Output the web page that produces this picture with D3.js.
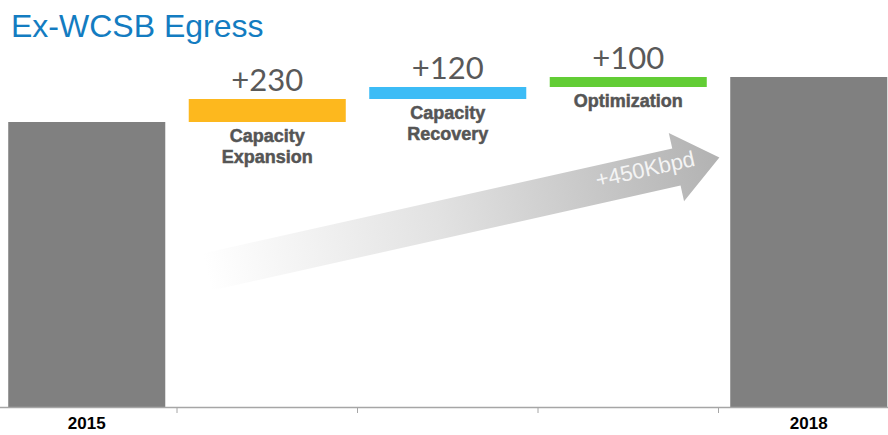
<!DOCTYPE html>
<html>
<head>
<meta charset="utf-8">
<script src="https://cdn.jsdelivr.net/npm/d3@7"></script>
<style>
  html, body { margin: 0; padding: 0; background: #fff; }
  svg { display: block; }
</style>
</head>
<body>
<svg id="chart" width="888" height="435"></svg>
<script>
// ---- data ----
const categories = ["2015", "Capacity Expansion", "Capacity Recovery", "Optimization", "2018"];
const axisLabels = ["2015", "", "", "", "2018"];
const kinds = ["total", "delta", "delta", "delta", "total"];
const values = [2850, 230, 120, 100, 3300];         // kbpd
const valueLabels = ["", "+230", "+120", "+100", ""];
const stepLabels = [[], ["Capacity", "Expansion"], ["Capacity", "Recovery"], ["Optimization"], []];
const barColors = ["#808080", "#fdb81e", "#3cbcf6", "#62cd35", "#808080"];
const title = "Ex-WCSB Egress";
const arrowLabel = "+450Kbpd";

// ---- layout ----
const W = 888, H = 435;
const svg = d3.select("#chart");
const baseY = 407;

const x = d3.scaleBand().domain(categories).range([-3.5, 899]).paddingInner(0.13).paddingOuter(0.065);
const y = d3.scaleLinear().domain([0, 3300]).range([baseY, 77]);

// compute waterfall segments
let running = 0;
const segs = categories.map((c, i) => {
  let lo, hi;
  if (kinds[i] === "total") { lo = 0; hi = values[i]; running = values[i]; }
  else { lo = running; hi = running + values[i]; running = hi; }
  return { cat: c, lo, hi, i };
});

// title
svg.append("text")
  .attr("x", 11).attr("y", 37)
  .attr("font-family", "'Liberation Sans', Arial, sans-serif")
  .attr("font-size", 32)
  .attr("fill", "#137cc1")
  .text(title);

// arrow (gradient)
const defs = svg.append("defs");
const grad = defs.append("linearGradient").attr("id", "arrowGrad")
  .attr("gradientUnits", "userSpaceOnUse")
  .attr("x1", 0).attr("y1", 0).attr("x2", 525).attr("y2", 0);
grad.append("stop").attr("offset", 0).attr("stop-color", "#ffffff");
grad.append("stop").attr("offset", 0.45).attr("stop-color", "#e2e2e2");
grad.append("stop").attr("offset", 1).attr("stop-color", "#b2b2b2");

const ang = -12.6;
const L = 525, headLen = 44, shaftHW = 19, headHW = 35;
const arrow = svg.append("g").attr("transform", `translate(207,272) rotate(${ang})`);
arrow.append("path")
  .attr("d", `M0,${-shaftHW} L${L - headLen},${-shaftHW} L${L - headLen},${-headHW} L${L},0 L${L - headLen},${headHW} L${L - headLen},${shaftHW} L0,${shaftHW} Z`)
  .attr("fill", "url(#arrowGrad)");
arrow.append("text")
  .attr("x", 450).attr("y", -3)
  .attr("text-anchor", "middle")
  .attr("dominant-baseline", "middle")
  .attr("font-family", "'Liberation Sans', Arial, sans-serif")
  .attr("font-size", 22)
  .attr("fill", "#f4f4f4")
  .text(arrowLabel);

// bars
svg.append("g").selectAll("rect").data(segs).join("rect")
  .attr("x", d => x(d.cat))
  .attr("width", x.bandwidth())
  .attr("y", d => y(d.hi))
  .attr("height", d => y(d.lo) - y(d.hi))
  .attr("fill", (d, i) => barColors[i]);

// value labels above deltas
svg.append("g").selectAll("text").data(segs.filter(d => valueLabels[d.i])).join("text")
  .attr("x", d => x(d.cat) + x.bandwidth() / 2)
  .attr("y", d => y(d.hi) - 8)
  .attr("text-anchor", "middle")
  .attr("font-family", "Lato, 'Open Sans', sans-serif")
  .attr("font-size", 31)
  .attr("fill", "#595959")
  .text(d => valueLabels[d.i]);

// step labels below deltas
const stepG = svg.append("g");
segs.forEach(d => {
  stepLabels[d.i].forEach((line, k) => {
    stepG.append("text")
      .attr("x", x(d.cat) + x.bandwidth() / 2)
      .attr("y", y(d.lo) + 20 + k * 21)
      .attr("text-anchor", "middle")
      .attr("font-family", "'Liberation Sans', Arial, sans-serif")
      .attr("font-weight", "bold")
      .attr("font-size", 18)
      .attr("fill", "#555555")
      .attr("stroke", "#555555")
      .attr("stroke-width", 0.5)
      .text(line);
  });
});

// axis
const axisG = svg.append("g").attr("transform", `translate(0,${baseY})`);
axisG.call(d3.axisBottom(x).tickSize(0).tickPadding(10).tickFormat((d, i) => axisLabels[i]));
axisG.select(".domain").attr("d", `M0,0.5H${W}`).attr("stroke", "#a6a6a6").attr("stroke-width", 1.5);
axisG.selectAll(".tick text")
  .attr("font-family", "'Liberation Sans', Arial, sans-serif")
  .attr("font-weight", "bold")
  .attr("font-size", 17)
  .attr("fill", "#000");
// separators at band boundaries
const bounds = categories.slice(1).map(c => x(c) - x.step() * x.paddingInner() / 2);
axisG.selectAll("line.sep").data(bounds).join("line")
  .attr("class", "sep")
  .attr("x1", d => d).attr("x2", d => d)
  .attr("y1", 0).attr("y2", 6)
  .attr("stroke", "#a6a6a6").attr("stroke-width", 1);
</script>
</body>
</html>
